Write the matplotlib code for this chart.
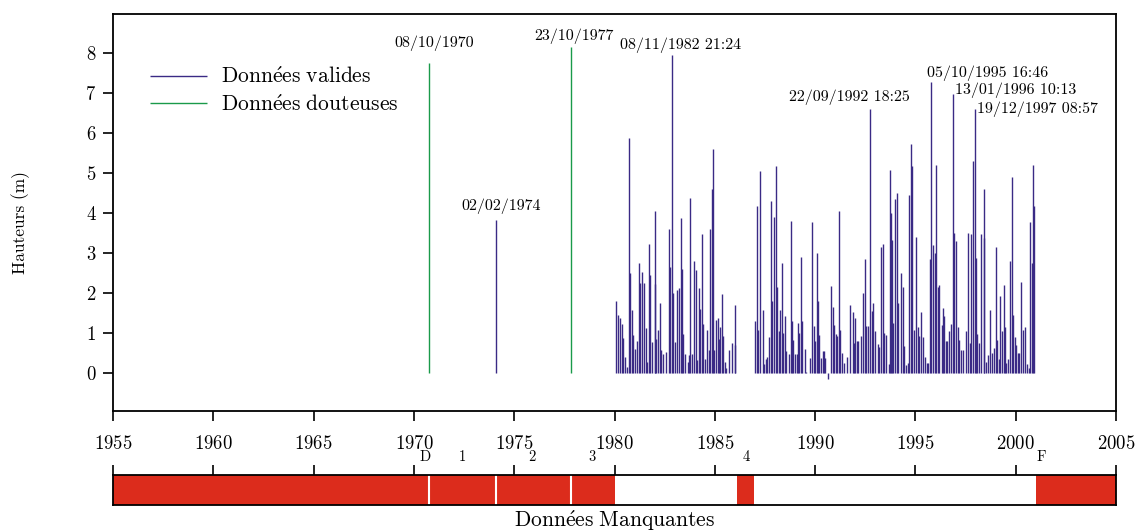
import matplotlib
matplotlib.use("Agg")
import matplotlib.pyplot as plt
import matplotlib.transforms as mtransforms

plt.rcParams["font.family"] = ["cmr10", "DejaVu Serif"]
plt.rcParams["mathtext.fontset"] = "cm"
plt.rcParams["axes.formatter.use_mathtext"] = True

# valid data (decimal year, height in m)
valid_years = [
    1974.09,
    1980.06, 1980.17, 1980.29, 1980.39, 1980.44, 1980.51, 1980.64, 1980.72, 1980.79, 1980.87,
    1980.92, 1981.04, 1981.11, 1981.24, 1981.29, 1981.39, 1981.49, 1981.55, 1981.62, 1981.74,
    1981.79, 1981.87, 1982.00, 1982.02, 1982.09, 1982.19, 1982.25, 1982.34, 1982.44, 1982.57,
    1982.70, 1982.78, 1982.85, 1982.93, 1983.02, 1983.13, 1983.20, 1983.30, 1983.37, 1983.43,
    1983.53, 1983.65, 1983.71, 1983.78, 1983.86, 1983.95, 1984.06, 1984.13, 1984.23, 1984.28,
    1984.36, 1984.43, 1984.51, 1984.63, 1984.71, 1984.75, 1984.85, 1984.91, 1984.98, 1985.06,
    1985.14, 1985.21, 1985.28, 1985.36, 1985.43, 1985.51, 1985.58, 1985.73, 1985.86, 1985.99,
    1986.02,
    1987.02, 1987.09, 1987.15, 1987.24, 1987.39, 1987.45, 1987.54, 1987.62, 1987.72, 1987.80,
    1987.85, 1987.93, 1988.03, 1988.08, 1988.20, 1988.27, 1988.33, 1988.40, 1988.48, 1988.57,
    1988.70, 1988.78, 1988.85, 1988.91, 1989.00, 1989.08, 1989.13, 1989.20, 1989.30, 1989.33,
    1989.48, 1989.56, 1989.76, 1989.85, 1989.95, 1990.01, 1990.08, 1990.13, 1990.18, 1990.31,
    1990.39, 1990.46, 1990.51, 1990.66, 1990.78, 1990.88, 1990.94, 1991.04, 1991.09, 1991.19,
    1991.24, 1991.32, 1991.42,
    1991.57, 1991.72, 1991.87, 1991.94, 1992.01, 1992.07, 1992.15, 1992.27, 1992.40, 1992.47,
    1992.54, 1992.65, 1992.72, 1992.82, 1992.90, 1992.99, 1993.12, 1993.19, 1993.30, 1993.37,
    1993.45, 1993.53, 1993.67, 1993.73, 1993.78, 1993.83, 1993.90, 1994.00, 1994.07, 1994.15,
    1994.30, 1994.37, 1994.45, 1994.51, 1994.61, 1994.70, 1994.78, 1994.85, 1994.93, 1995.05,
    1995.11, 1995.20, 1995.30, 1995.36, 1995.46, 1995.55, 1995.63, 1995.70, 1995.76, 1995.88,
    1995.96, 1996.04, 1996.13,
    1996.19, 1996.31, 1996.38, 1996.43, 1996.51, 1996.59, 1996.69, 1996.77, 1996.86, 1996.94,
    1997.04, 1997.11, 1997.17, 1997.27, 1997.36, 1997.51, 1997.64, 1997.71, 1997.76, 1997.86,
    1997.95, 1998.04, 1998.09, 1998.17, 1998.27, 1998.40, 1998.44, 1998.50, 1998.64, 1998.74,
    1998.80, 1998.90, 1998.99, 1999.07, 1999.15, 1999.23, 1999.32, 1999.40, 1999.45, 1999.50,
    1999.60, 1999.72, 1999.80, 1999.88, 1999.95, 2000.03, 2000.11, 2000.18, 2000.28, 2000.35,
    2000.45, 2000.55, 2000.65, 2000.73, 2000.80, 2000.86, 2000.93,
]
valid_heights = [
    3.83,
    1.80, 1.45, 1.37, 1.23, 0.87, 0.39, 0.16, 5.87, 2.50, 1.58,
    0.95, 0.60, 0.80, 2.76, 2.26, 2.53, 2.24, 1.12, 0.27, 3.22,
    2.45, 0.78, 4.06, 2.22, 0.84, 1.08, 1.76, 0.58, 0.48, 0.53,
    3.60, 2.64, 7.95, 2.00, 0.78, 2.07, 2.12, 3.87, 2.60, 0.97,
    0.48, 0.27, 0.45, 4.37, 0.48, 2.79, 2.58, 0.33, 2.12, 1.60,
    3.48, 1.23, 0.34, 1.07, 0.58, 3.60, 4.59, 5.59, 0.58, 1.32,
    1.37, 0.84, 1.15, 1.98, 0.93, 0.27, 0.12, 0.58, 0.74, 1.71,
    0.69,
    1.30, 4.18, 1.07, 5.05, 1.58, 0.22, 0.34, 0.39, 0.90, 4.31,
    1.79, 3.89, 5.17, 2.14, 1.06, 1.58, 2.74, 1.00, 1.43, 0.55,
    0.48, 3.81, 1.30, 0.83, 0.48, 0.48, 1.25, 1.00, 2.89, 1.30,
    0.60, 0.03, 0.37, 3.77, 1.18, 0.79, 2.99, 1.79, 0.95, 0.37,
    0.55, 0.55, 0.37, -0.16, 2.17, 1.66, 1.20, 0.98, 0.92, 4.06,
    1.07, 0.49, 0.25,
    0.39, 1.70, 1.53, 0.76, 1.37, 0.79, 0.79, 0.93, 2.00, 2.84,
    1.18, 1.18, 6.60, 1.55, 1.75, 1.06, 0.73, 0.66, 3.14, 3.23,
    1.00, 0.95, 0.23, 5.08, 4.00, 3.33, 1.25, 4.34, 4.51, 1.74,
    2.49, 2.16, 0.68, 0.20, 0.26, 4.45, 5.73, 5.17, 1.08, 3.41,
    1.15, 0.93, 1.53, 0.91, 0.39, 0.25, 0.26, 2.84, 7.28, 3.20,
    3.01, 5.20, 2.14,
    2.20, 1.20, 1.62, 1.43, 0.79, 0.79, 1.06, 1.23, 6.98, 3.49,
    3.30, 1.15, 0.83, 0.58, 0.58, 1.06, 3.49, 0.74, 3.47, 5.31,
    6.60, 2.87, 0.97, 0.74, 3.47, 4.60, 3.38, 0.28, 0.45, 1.58,
    0.49, 0.62, 3.16, 0.83, 0.34, 1.93, 1.04, 2.19, 1.15, 0.26,
    0.34, 2.81, 4.91, 1.45, 0.91, 0.71, 0.49, 0.49, 2.28, 1.08,
    1.15, 0.22, 0.12, 3.78, 2.76, 5.20, 4.17,
]

# doubtful data
doubt_years = [1970.77, 1977.81]
doubt_heights = [7.75, 8.15]

# labelled events: (year, height, text)
label_years = [1970.77, 1974.09, 1977.81, 1982.85, 1992.72, 1995.76, 1996.86, 1997.95]
label_heights = [7.75, 3.83, 8.15, 7.95, 6.60, 7.28, 6.98, 6.60]
label_texts = ["08/10/1970", "02/02/1974", "23/10/1977", "08/11/1982 21:24",
               "22/09/1992 18:25", "05/10/1995 16:46", "13/01/1996 10:13",
               "19/12/1997 08:57"]

# missing data intervals and their names
missing_start = [1955.0, 1986.10, 2001.0]
missing_end = [1980.0, 1986.95, 2005.0]
isolated_years = [1970.77, 1974.09, 1977.81]
gap_names = ["D", "1", "2", "3", "4", "F"]
gap_name_years = [1970.55, 1972.42, 1975.9, 1978.9, 1986.55, 2001.28]

VALID_C = "#3a2a85"
DOUBT_C = "#1a9a4a"
RED = "#dc2c1c"

fig = plt.figure(figsize=(11.37, 5.32), dpi=100)
ax = fig.add_axes([0.0994, 0.2274, 0.8822, 0.7463])
ax2 = fig.add_axes([0.0994, 0.0508, 0.8822, 0.0564])

ax.vlines(valid_years, 0, valid_heights, color=VALID_C, lw=1.0,
          label=r"$\mathrm{Donn\acute{e}es\ valides}$")
ax.vlines(doubt_years, 0, doubt_heights, color=DOUBT_C, lw=1.0,
          label=r"$\mathrm{Donn\acute{e}es\ douteuses}$")

# label offsets in pixels (dx, dy, ha)
offsets = [(5, 12, "center"), (5, 6, "center"), (3, 3, "center"), (9, 2, "center"),
           (-20, 4, "center"), (-4, 1, "left"), (2, -4, "left"), (2, -8, "left")]
for x, y, t, (dx, dy, ha) in zip(label_years, label_heights, label_texts, offsets):
    ax.annotate(t, (x, y), xytext=(dx, dy), textcoords="offset pixels",
                ha=ha, va="bottom", fontsize=11.5)

ax.set_xlim(1955, 2005)
ax.set_ylim(-0.95, 8.975)
ax.set_xticks(range(1955, 2006, 5))
ax.set_yticks(range(0, 9))
ax.tick_params(axis="both", direction="out", length=7, width=1.2, labelsize=13.5)
ax.tick_params(axis="x", pad=10)
ax.tick_params(axis="y", pad=5)
for s in ax.spines.values():
    s.set_linewidth(1.3)
ax.set_ylabel("Hauteurs (m)", fontsize=12.5)
ax.yaxis.set_label_coords(-0.083, 0.474)
ax.legend(loc="upper left", bbox_to_anchor=(0.037, 0.868), frameon=False,
          fontsize=15.5, handlelength=2.65, handletextpad=0.65, labelspacing=0.3,
          borderpad=0, borderaxespad=0)

# missing data strip
for a, b in zip(missing_start, missing_end):
    ax2.axvspan(a, b, color=RED, lw=0)
for x in isolated_years:
    ax2.axvline(x, color="white", lw=1.5)
ax2.set_xlim(1955, 2005)
ax2.set_ylim(0, 1)
ax2.set_yticks([])
ax2.set_xticks(range(1955, 2006, 5))
ax2.tick_params(axis="x", direction="out", length=7, width=1.2,
                bottom=False, top=True, labelbottom=False, labeltop=False)
for s in ax2.spines.values():
    s.set_linewidth(1.3)
trans = mtransforms.blended_transform_factory(ax2.transData, ax2.transAxes)
for x, n in zip(gap_name_years, gap_names):
    ax2.text(x, 1.35, n, transform=trans, ha="center", va="bottom", fontsize=10.5)
ax2.set_xlabel(r"$\mathrm{Donn\acute{e}es\ Manquantes}$", fontsize=15.5, labelpad=2)

fig.savefig("out.png", dpi=100)
